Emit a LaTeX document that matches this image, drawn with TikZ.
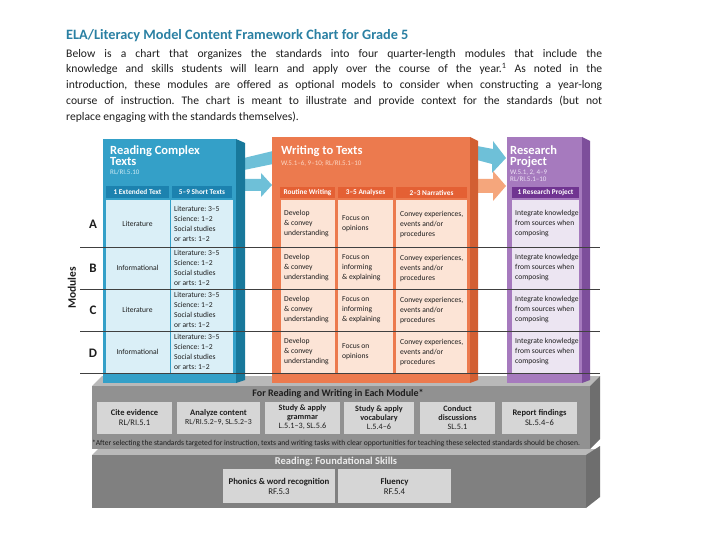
\documentclass[tikz,border=0pt]{standalone}
\usepackage{fontspec}
\setmainfont{Carlito}
\usetikzlibrary{calc}
\frenchspacing
\definecolor{titleblue}{RGB}{42,128,163}
\definecolor{bmain}{RGB}{52,160,200}
\definecolor{bside}{RGB}{24,120,155}
\definecolor{bhead}{RGB}{28,130,175}
\definecolor{bcell}{RGB}{218,239,247}
\definecolor{bsub}{RGB}{205,235,245}
\definecolor{omain}{RGB}{236,122,78}
\definecolor{oside}{RGB}{210,95,50}
\definecolor{ohead}{RGB}{228,96,52}
\definecolor{ocell}{RGB}{252,228,214}
\definecolor{osub}{RGB}{252,214,195}
\definecolor{pmain}{RGB}{166,122,190}
\definecolor{pside}{RGB}{125,78,155}
\definecolor{phead}{RGB}{112,52,145}
\definecolor{pcell}{RGB}{236,229,242}
\definecolor{psub}{RGB}{236,224,244}
\definecolor{barrow}{RGB}{110,192,216}
\definecolor{oarrow}{RGB}{245,166,124}
\definecolor{gtop}{RGB}{185,185,185}
\definecolor{gfront}{RGB}{145,145,145}
\definecolor{gside}{RGB}{110,110,110}
\definecolor{gfront2}{RGB}{128,128,128}
\definecolor{gbox}{RGB}{214,214,214}
\definecolor{ink}{RGB}{30,30,30}
\tikzset{
  ttl/.style={anchor=base west, inner sep=0, font=\bfseries\fontsize{12.5}{13}\selectfont, text=white},
  subt/.style={anchor=base west, inner sep=0, font=\fontsize{7}{8}\selectfont},
  hdr/.style={inner sep=0, minimum height=12, font=\bfseries\fontsize{7.3}{8}\selectfont, text=white},
  ctxt/.style={anchor=west, inner sep=0, align=left, font=\fontsize{7.6}{10}\selectfont, text=ink},
  ctxtc/.style={inner sep=0, align=center, font=\fontsize{7.6}{10}\selectfont, text=ink},
  rowlbl/.style={inner sep=0, font=\bfseries\fontsize{13}{13}\selectfont, text=ink},
  gb/.style={fill=gbox, inner sep=0, align=center, font=\fontsize{8.5}{9.5}\selectfont, text=ink},
  rowline/.style={draw=black!75, line width=0.8},
}
\begin{document}
\begin{tikzpicture}[x=1pt,y=-1pt]
\useasboundingbox (0,0) rectangle (720,540);
\fill[white] (0,0) rectangle (720,540);

% title and paragraph
\node[anchor=base west, inner sep=0, font=\bfseries\fontsize{14.3}{14}\selectfont, text=titleblue] (title) at (66,40) {ELA/Literacy Model Content Framework Chart for Grade 5};
\node[anchor=north west, inner sep=0, text width=536, align=justify, font=\fontsize{11.6}{15.7}\selectfont, text=ink] (para) at (66,49)
{\hyphenpenalty=10000\exhyphenpenalty=10000 Below is a chart that organizes the standards into four quarter-length modules that include the\linebreak knowledge and skills students will learn and apply over the course of the year.\textsuperscript{1} As noted in the\linebreak introduction, these modules are offered as optional models to consider when constructing a year-long\linebreak course of instruction. The chart is meant to illustrate and provide context for the standards (but not\linebreak replace engaging with the standards themselves).};

% grey base, upper tier
\fill[gtop] (92,386) -- (102,376) -- (600,376) -- (590,386) -- cycle;
\fill[gfront] (92,386) rectangle (590,449);
\fill[gside] (590,386) -- (600,376) -- (600,439) -- (590,449) -- cycle;
% lower tier
\fill[gtop] (92,455) -- (98,449) -- (600,449) -- (590,455) -- cycle;
\fill[gfront2] (92,455) rectangle (586,508);
\fill[gside] (586,455) -- (600,446) -- (600,497) -- (586,508) -- cycle;

\node[inner sep=0, font=\bfseries\fontsize{10}{10}\selectfont, text=ink] (forrw) at (338,394) {For Reading and Writing in Each Module*};
\node[gb, minimum width=75, minimum height=32] (cite) at (134.5,417.5) {\textbf{Cite evidence}\\RL/RI.5.1};
\node[gb, minimum width=83, minimum height=32] (analyze) at (218.5,417.5) {\textbf{Analyze content}\\{\fontsize{7.8}{9}\selectfont RL/RI.5.2--9, SL.5.2--3}};
\node[gb, minimum width=75, minimum height=32, font=\fontsize{8.2}{9}\selectfont] (grammar) at (302.5,417.5) {\textbf{Study \& apply}\\\textbf{grammar}\\L.5.1--3, SL.5.6};
\node[gb, minimum width=70, minimum height=32, font=\fontsize{8.2}{9}\selectfont] (vocab) at (379,417.5) {\textbf{Study \& apply}\\\textbf{vocabulary}\\L.5.4--6};
\node[gb, minimum width=75, minimum height=32, font=\fontsize{8.2}{9}\selectfont] (conduct) at (457.5,417.5) {\textbf{Conduct}\\\textbf{discussions}\\SL.5.1};
\node[gb, minimum width=75, minimum height=32] (report) at (539.5,417.5) {\textbf{Report findings}\\SL.5.4--6};
\node[anchor=base, inner sep=0, font=\fontsize{7.6}{8}\selectfont, text=ink] (foot) at (336,445) {*After selecting the standards targeted for instruction, texts and writing tasks with clear opportunities for teaching these selected standards should be chosen.};

\node[inner sep=0, font=\bfseries\fontsize{10.5}{10}\selectfont, text=black!8] (rfs) at (336,462) {Reading: Foundational Skills};
\node[gb, minimum width=112, minimum height=34, font=\fontsize{8.8}{10}\selectfont] (phonics) at (279,486) {\textbf{Phonics \& word recognition}\\RF.5.3};
\node[gb, minimum width=113, minimum height=34, font=\fontsize{8.8}{10}\selectfont] (fluency) at (394.5,486) {\textbf{Fluency}\\RF.5.4};

% arrows
\fill[barrow] (244,158) -- (273,151) -- (273,164) -- (244,170) -- cycle;
\fill[barrow] (244,179) -- (261,179) -- (261,173) -- (272,185) -- (261,197) -- (261,191) -- (244,191) -- cycle;
\fill[barrow] (477,146) -- (493,149) -- (493,141) -- (506,158) -- (492,173) -- (492,164) -- (477,160) -- cycle;
\fill[oarrow] (477,179) -- (493,179) -- (493,171) -- (506,186) -- (493,201) -- (493,193) -- (477,193) -- cycle;

% blue panel
\fill[bmain] (103,139) rectangle (236,383);
\fill[bside] (236,139) -- (245,143) -- (245,380) -- (236,383) -- cycle;
\node[ttl] (bt1) at (110,155) {Reading Complex};
\node[ttl] (bt2) at (110,166) {Texts};
\node[subt, text=bsub] (bt3) at (110,175) {RL/RI.5.10};
\fill[bhead] (106,186) rectangle (169,198);
\fill[bhead] (172,186) rectangle (232,198);
\node[hdr] (bh1) at (137.5,192) {1 Extended Text};
\node[hdr] (bh2) at (202,192) {5--9 Short Texts};
\fill[bcell] (106,200) rectangle (233,374);
\draw[bmain, line width=0.8] (170,200) -- (170,374);

% orange panel
\fill[omain] (272,137) rectangle (470,383);
\fill[oside] (470,137) -- (478,141) -- (478,380) -- (470,383) -- cycle;
\node[ttl] (ot1) at (281,155) {Writing to Texts};
\node[subt, text=osub] (ot2) at (281,166) {W.5.1--6, 9--10; RL/RI.5.1--10};
\fill[ohead] (280,187) rectangle (335,198);
\fill[ohead] (338,187) rectangle (393,198);
\fill[ohead] (396,187) rectangle (467,198);
\node[hdr] (oh1) at (307.5,192.5) {Routine Writing};
\node[hdr] (oh2) at (365.5,192.5) {3--5 Analyses};
\node[hdr] (oh3) at (431.5,192.5) {2--3 Narratives};
\fill[ocell] (281,200) rectangle (335,374);
\fill[ocell] (338,200) rectangle (393,374);
\fill[ocell] (396,200) rectangle (467,374);

% purple panel
\fill[pmain] (507,137) rectangle (582,383);
\fill[pside] (582,137) -- (590,141) -- (590,380) -- (582,383) -- cycle;
\node[ttl] (pt1) at (510,155) {Research};
\node[ttl] (pt2) at (510,166) {Project};
\node[subt, text=psub] (pt3) at (510,175) {W.5.1, 2, 4--9};
\node[subt, text=psub] (pt4) at (510,182) {RL/RI.5.1--10};
\fill[phead] (512,187) rectangle (579,198);
\node[hdr] (ph1) at (545.5,192.5) {1 Research Project};
\fill[pcell] (512,200) rectangle (579,374);

% module labels
\node[rotate=90, inner sep=0, font=\bfseries\fontsize{11.5}{11}\selectfont, text=ink] (modules) at (72,288) {Modules};
\node[rowlbl] (la) at (93,224) {A};
\node[rowlbl] (lb) at (93,268) {B};
\node[rowlbl] (lc) at (93,310) {C};
\node[rowlbl] (ld) at (93,353) {D};

% row contents
\foreach \r/\yc/\kind/\foc in {a/224/Literature/{Focus on\\opinions}, b/268/Informational/{Focus on\\informing\\\& explaining}, c/310/Literature/{Focus on\\informing\\\& explaining}, d/352/Informational/{Focus on\\opinions}}{
  \node[ctxtc] (k\r) at (137.5,\yc) {\kind};
  \node[ctxt] (s\r) at (174,\yc) {Literature: 3--5\\Science: 1--2\\Social studies\\or arts: 1--2};
  \node[ctxt] (w\r) at (284,\yc) {Develop\\\& convey\\understanding};
  \node[ctxt] (f\r) at (342,\yc) {\foc};
  \node[ctxt] (n\r) at (400,\yc) {Convey experiences,\\events and/or\\procedures};
  \node[ctxt] (i\r) at (515,\yc) {Integrate knowledge\\from sources when\\composing};
}

% row lines
\draw[rowline] (80,247) -- (600,247);
\draw[rowline] (80,289) -- (600,289);
\draw[rowline] (80,331) -- (600,331);
\draw[rowline] (80,373) -- (600,373);
\end{tikzpicture}
\end{document}
